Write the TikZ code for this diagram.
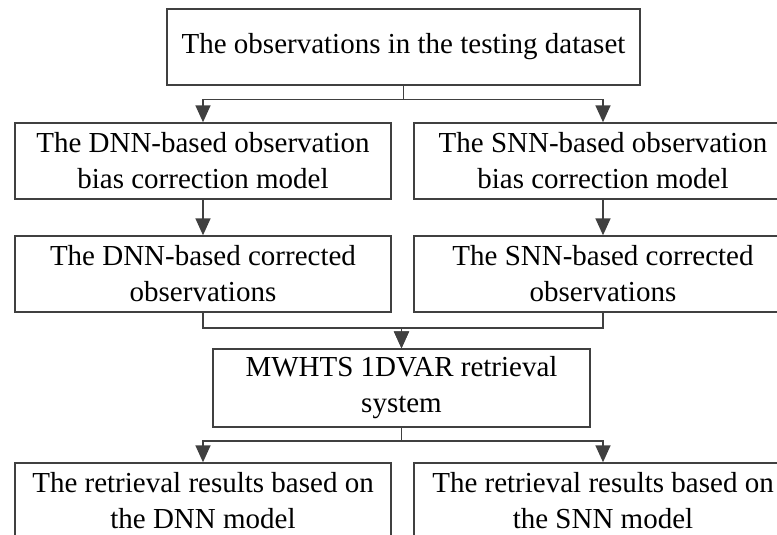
\documentclass[tikz,border=0pt]{standalone}
\usepackage{fontspec}
\setmainfont{Liberation Serif}
\usepackage{tikz}
\usetikzlibrary{arrows.meta, positioning}

\begin{document}
\begin{tikzpicture}[
    x=1pt, y=-1pt,
    box/.style={draw=black!75, line width=1.4pt, minimum height=76pt,
                align=center, inner sep=0pt,
                font=\fontsize{29}{36}\selectfont},
    conn/.style={draw=black!75, line width=1.6pt,
                 -{Triangle[length=17pt, width=15pt]}}
  ]
  \useasboundingbox (0,0) rectangle (777,535);
  \clip (0,0) rectangle (777,535);

  % input
  \node[box, minimum width=473pt] (obs) at (403.5, 47)
    {The observations in the testing dataset};

  % bias correction models
  \node[box, minimum width=376pt] (dnnbias) at (203, 161)
    {The DNN-based observation\\bias correction model};
  \node[box, minimum width=378pt] (snnbias) at (603, 161)
    {The SNN-based observation\\bias correction model};

  % corrected observations
  \node[box, minimum width=376pt] (dnncorr) at (203, 274)
    {The DNN-based corrected\\observations};
  \node[box, minimum width=378pt] (snncorr) at (603, 274)
    {The SNN-based corrected\\observations};

  % retrieval system
  \node[box, minimum width=377pt, minimum height=78pt] (mwhts) at (401.5, 388)
    {MWHTS 1DVAR retrieval\\system};

  % retrieval results
  \node[box, minimum width=376pt] (dnnres) at (203, 501)
    {The retrieval results based on\\the DNN model};
  \node[box, minimum width=378pt] (snnres) at (603, 501)
    {The retrieval results based on\\the SNN model};

  % connectors
  \draw[conn] (obs.south) -- ++(0,14) -| (dnnbias.north);
  \draw[conn] (obs.south) -- ++(0,14) -| (snnbias.north);
  \draw[conn] (dnnbias) -- (dnncorr);
  \draw[conn] (snnbias) -- (snncorr);
  \draw[conn] (dnncorr.south) -- ++(0,15) -| (mwhts.north);
  \draw[conn] (snncorr.south) -- ++(0,15) -| (mwhts.north);
  \draw[conn] (mwhts.south) -- ++(0,13) -| (dnnres.north);
  \draw[conn] (mwhts.south) -- ++(0,13) -| (snnres.north);
\end{tikzpicture}
\end{document}
